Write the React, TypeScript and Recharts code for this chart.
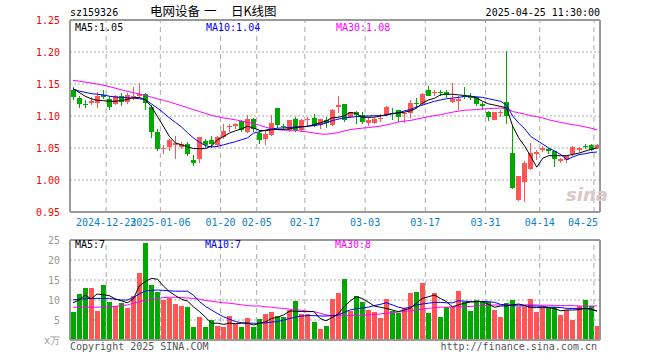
import React from 'react';
import {
    ComposedChart,
    Bar,
    Line,
    XAxis,
    YAxis,
    CartesianGrid,
    ReferenceLine,
    Cell
} from 'recharts';

const DATES = [
    '2024-12-13', '2024-12-16', '2024-12-17', '2024-12-18', '2024-12-19', '2024-12-20', '2024-12-23', '2024-12-24', '2024-12-25', '2024-12-26',
    '2024-12-27', '2024-12-30', '2024-12-31', '2025-01-02', '2025-01-03', '2025-01-06', '2025-01-07', '2025-01-08', '2025-01-09', '2025-01-10',
    '2025-01-13', '2025-01-14', '2025-01-15', '2025-01-16', '2025-01-17', '2025-01-20', '2025-01-21', '2025-01-22', '2025-01-23', '2025-01-24',
    '2025-01-27', '2025-02-05', '2025-02-06', '2025-02-07', '2025-02-10', '2025-02-11', '2025-02-12', '2025-02-13', '2025-02-14', '2025-02-17',
    '2025-02-18', '2025-02-19', '2025-02-20', '2025-02-21', '2025-02-24', '2025-02-25', '2025-02-26', '2025-02-27', '2025-02-28', '2025-03-03',
    '2025-03-04', '2025-03-05', '2025-03-06', '2025-03-07', '2025-03-10', '2025-03-11', '2025-03-12', '2025-03-13', '2025-03-14', '2025-03-17',
    '2025-03-18', '2025-03-19', '2025-03-20', '2025-03-21', '2025-03-24', '2025-03-25', '2025-03-26', '2025-03-27', '2025-03-28', '2025-03-31',
    '2025-04-01', '2025-04-02', '2025-04-03', '2025-04-07', '2025-04-08', '2025-04-09', '2025-04-10', '2025-04-11', '2025-04-14', '2025-04-15',
    '2025-04-16', '2025-04-17', '2025-04-18', '2025-04-21', '2025-04-22', '2025-04-23', '2025-04-24', '2025-04-25',
];

const OPEN = [
    1.140, 1.128, 1.118, 1.120, 1.120, 1.133, 1.127, 1.119, 1.132, 1.122,
    1.129, 1.131, 1.134, 1.1135, 1.0755, 1.048, 1.051, 1.055, 1.052, 1.056,
    1.032, 1.033, 1.061, 1.063, 1.055, 1.067, 1.083, 1.085, 1.092, 1.075,
    1.096, 1.073, 1.064, 1.071, 1.1125, 1.085, 1.0786, 1.096, 1.0786, 1.093,
    1.097, 1.0865, 1.094, 1.0865, 1.114, 1.118, 1.099, 1.1057, 1.1016, 1.0896,
    1.0885, 1.095, 1.1016, 1.105, 1.109, 1.103, 1.104, 1.121, 1.119, 1.140,
    1.1354, 1.137, 1.137, 1.122, 1.124, 1.131, 1.131, 1.129, 1.118, 1.107,
    1.094, 1.104, 1.122, 1.042, 0.968, 0.997, 1.017, 1.040, 1.047, 1.049,
    1.045, 1.029, 1.031, 1.040, 1.047, 1.0525, 1.054, 1.050,
];
const HIGH = [
    1.145, 1.131, 1.125, 1.129, 1.137, 1.140, 1.131, 1.133, 1.136, 1.136,
    1.145, 1.151, 1.136, 1.117, 1.080, 1.054, 1.064, 1.068, 1.060, 1.059,
    1.039, 1.067, 1.064, 1.068, 1.069, 1.088, 1.088, 1.089, 1.094, 1.102,
    1.097, 1.078, 1.076, 1.102, 1.1125, 1.087, 1.094, 1.098, 1.096, 1.099,
    1.103, 1.096, 1.098, 1.111, 1.132, 1.118, 1.106, 1.108, 1.106, 1.099,
    1.097, 1.103, 1.116, 1.112, 1.110, 1.107, 1.125, 1.128, 1.136, 1.147,
    1.141, 1.141, 1.141, 1.151, 1.131, 1.146, 1.136, 1.130, 1.122, 1.108,
    1.1057, 1.110, 1.202, 1.086, 1.007, 1.030, 1.058, 1.047, 1.053, 1.050,
    1.046, 1.035, 1.038, 1.053, 1.051, 1.057, 1.056, 1.056,
];
const LOW = [
    1.125, 1.113, 1.112, 1.117, 1.113, 1.126, 1.110, 1.117, 1.116, 1.118,
    1.125, 1.128, 1.110, 1.065, 1.046, 1.041, 1.045, 1.033, 1.048, 1.037,
    1.022, 1.027, 1.050, 1.050, 1.052, 1.064, 1.075, 1.079, 1.075, 1.073,
    1.075, 1.057, 1.055, 1.069, 1.081, 1.079, 1.075, 1.075, 1.075, 1.085,
    1.083, 1.080, 1.082, 1.085, 1.104, 1.091, 1.097, 1.088, 1.088, 1.084,
    1.087, 1.090, 1.100, 1.093, 1.090, 1.089, 1.097, 1.112, 1.117, 1.131,
    1.131, 1.131, 1.128, 1.121, 1.110, 1.1265, 1.1245, 1.116, 1.110, 1.092,
    1.093, 1.098, 1.088, 0.986, 0.967, 0.966, 1.016, 1.032, 1.043, 1.040,
    1.020, 1.027, 1.026, 1.038, 1.043, 1.048, 1.046, 1.048,
];
const CLOSE = [
    1.130, 1.119, 1.117, 1.124, 1.132, 1.129, 1.114, 1.131, 1.122, 1.133,
    1.132, 1.134, 1.121, 1.0745, 1.049, 1.050, 1.062, 1.058, 1.056, 1.040,
    1.026, 1.067, 1.054, 1.056, 1.067, 1.077, 1.085, 1.088, 1.078, 1.096,
    1.079, 1.063, 1.072, 1.089, 1.0865, 1.083, 1.094, 1.078, 1.093, 1.096,
    1.085, 1.096, 1.089, 1.110, 1.117, 1.094, 1.1057, 1.102, 1.090, 1.093,
    1.096, 1.097, 1.1146, 1.103, 1.099, 1.105, 1.121, 1.120, 1.135, 1.132,
    1.1375, 1.136, 1.133, 1.127, 1.1265, 1.130, 1.128, 1.118, 1.116, 1.098,
    1.1057, 1.107, 1.100, 0.988, 1.007, 1.026, 1.042, 1.044, 1.050, 1.045,
    1.033, 1.033, 1.037, 1.052, 1.050, 1.052, 1.047, 1.054,
];

// price moving averages
const MA5 = [
    1.143, 1.137, 1.131, 1.127, 1.1245, 1.124, 1.123, 1.123, 1.124, 1.126,
    1.1286, 1.129, 1.1255, 1.115, 1.0995, 1.084, 1.068, 1.058, 1.055, 1.052,
    1.049, 1.049, 1.049, 1.053, 1.063, 1.068, 1.0734, 1.077, 1.080, 1.084,
    1.081, 1.0776, 1.077, 1.0786, 1.079, 1.079, 1.080, 1.082, 1.083, 1.084,
    1.0865, 1.089, 1.092, 1.097, 1.098, 1.100, 1.1057, 1.104, 1.098, 1.098,
    1.098, 1.100, 1.102, 1.104, 1.105, 1.106, 1.108, 1.112, 1.120, 1.125,
    1.1276, 1.133, 1.134, 1.134, 1.133, 1.132, 1.131, 1.128, 1.123, 1.119,
    1.117, 1.115, 1.1125, 1.084, 1.066, 1.0526, 1.037, 1.020, 1.034, 1.038,
    1.038, 1.038, 1.038, 1.040, 1.042, 1.045, 1.048, 1.050,
];
const MA10 = [
    1.142, 1.139, 1.137, 1.135, 1.134, 1.133, 1.131, 1.1297, 1.129, 1.1285,
    1.128, 1.127, 1.1255, 1.119, 1.1125, 1.105, 1.097, 1.090, 1.083, 1.074,
    1.0656, 1.059, 1.0536, 1.0516, 1.0525, 1.055, 1.0575, 1.060, 1.063, 1.066,
    1.0734, 1.0755, 1.078, 1.0797, 1.081, 1.0815, 1.082, 1.083, 1.0835, 1.084,
    1.085, 1.0865, 1.089, 1.0927, 1.095, 1.097, 1.098, 1.099, 1.0995, 1.100,
    1.1005, 1.1005, 1.101, 1.1036, 1.1047, 1.108, 1.110, 1.114, 1.117, 1.120,
    1.123, 1.125, 1.127, 1.128, 1.129, 1.1307, 1.131, 1.130, 1.129, 1.127,
    1.125, 1.123, 1.117, 1.100, 1.089, 1.080, 1.068, 1.062, 1.056, 1.050,
    1.045, 1.0396, 1.0318, 1.036, 1.0396, 1.041, 1.043, 1.0437,
];
const MA30 = [
    1.1557, 1.1545, 1.153, 1.1516, 1.150, 1.148, 1.146, 1.1435, 1.141, 1.1385,
    1.1365, 1.1345, 1.132, 1.1295, 1.127, 1.1245, 1.122, 1.119, 1.116, 1.113,
    1.110, 1.107, 1.104, 1.101, 1.099, 1.097, 1.0955, 1.094, 1.092, 1.090,
    1.088, 1.0855, 1.0825, 1.080, 1.0786, 1.078, 1.0776, 1.0776, 1.076, 1.075,
    1.0735, 1.072, 1.0715, 1.0725, 1.074, 1.0765, 1.0786, 1.080, 1.081, 1.082,
    1.083, 1.084, 1.086, 1.088, 1.0905, 1.092, 1.093, 1.095, 1.097, 1.099,
    1.1005, 1.102, 1.104, 1.106, 1.1075, 1.109, 1.1095, 1.110, 1.111, 1.1115,
    1.112, 1.1125, 1.1115, 1.107, 1.105, 1.103, 1.1005, 1.099, 1.097, 1.094,
    1.092, 1.090, 1.088, 1.0865, 1.085, 1.083, 1.081, 1.0786,
];

// volume in 万
const VOL = [
    7.1, 11.5, 12.9, 12.9, 7.25, 13.75, 9.6, 8.5, 9.2, 8.1,
    11, 16.8, 24.3, 13.75, 12.1, 10, 10.6, 9, 8.5, 8.3,
    3.3, 5.7, 3.3, 5, 3.5, 3.3, 6, 3.9, 3.3, 5.4,
    3.3, 5.2, 6.5, 7.1, 6, 5.8, 7.5, 9.75, 6.5, 6.5,
    4.6, 2.75, 3.5, 10.25, 11.8, 15.25, 7.25, 11, 9.6, 7.5,
    7.1, 5.6, 10.25, 7.25, 6.7, 7.9, 11.8, 12.1, 14.3, 6.8,
    11.8, 5.8, 8.2, 8.2, 12.25, 9.6, 7.3, 10, 9.8, 9.6,
    7.5, 5.8, 9.2, 10, 8.2, 8.2, 10.25, 7.1, 8.1, 8.2,
    8.2, 6.25, 7.5, 5, 8.5, 10, 8.5, 3.5,
];
const VMA5 = [
    9.3, 10, 11.2, 10.3, 11.5, 11.3, 11.1, 10.3, 9.8, 9.3,
    10.2, 13.5, 14.6, 15.4, 15.2, 13.5, 12.1, 11.1, 10.2, 9.75,
    8.3, 7.1, 5.7, 4.2, 4.2, 3.9, 4.2, 4.1, 4.2, 4.2,
    3.75, 4.2, 4.6, 5.4, 5.7, 6.3, 7.25, 7.2, 7.1, 7.1,
    7.1, 5.4, 4.8, 5.6, 6.5, 8.3, 9.7, 10.8, 10.4, 9.5,
    8.5, 8.2, 7.9, 7.5, 7.1, 7.5, 7.9, 9.2, 10.4, 10.8,
    11.25, 10.4, 9.6, 8.3, 8.8, 9.2, 9.5, 9.6, 9.6, 8.9,
    8.2, 8.5, 8.5, 8.8, 9.0, 8.6, 8.1, 8.1, 8.1, 8.1,
    7.8, 7.3, 7.5, 7.5, 7.6, 7.9, 7.8, 7.2,
];
const VMA10 = [
    10, 10.2, 10.3, 10.4, 10.4, 10.4, 10.4, 10.2, 10, 10,
    10.6, 11.5, 12.25, 12.4, 12.5, 12.4, 12.3, 12.2, 12.2, 12.2,
    11.2, 9.6, 8.4, 7.5, 6.6, 5.8, 5.2, 4.6, 4.3, 4.2,
    4.2, 4.2, 4.3, 4.5, 4.6, 5.0, 5.4, 5.7, 6, 6.1,
    6.1, 6, 6, 6.1, 6.25, 6.9, 7.5, 7.8, 8.0, 8.2,
    8.6, 8.9, 9.3, 8.8, 8.2, 7.9, 8.2, 8.75, 9.0, 9.2,
    9.4, 9.4, 9.3, 9.3, 9.8, 9.7, 9.6, 9.6, 9.6, 9.6,
    9.4, 8.9, 8.8, 8.6, 8.5, 8.5, 8.5, 8.5, 8.4, 8.2,
    8.2, 8.1, 7.9, 7.9, 7.9, 7.9, 7.6, 7.3,
];
const VMA30 = [
    8.2, 8.2, 8.2, 8.2, 8.2, 8.3, 8.3, 8.4, 8.6, 8.75,
    9.2, 9.6, 9.9, 10.1, 10.4, 10.6, 10.7, 10.7, 10.6, 10.5,
    10.4, 10.2, 9.9, 9.7, 9.5, 9.3, 9.2, 9.0, 8.8, 8.6,
    8.5, 8.5, 8.3, 8.2, 8.0, 7.9, 7.7, 7.6, 7.4, 7.2,
    7.1, 6.7, 6.3, 6.0, 6.0, 6.1, 6.1, 6.2, 6.2, 6.25,
    6.4, 6.5, 6.7, 6.8, 7.0, 7.1, 7.3, 7.5, 7.7, 7.9,
    8.1, 8.2, 8.2, 8.3, 8.3, 8.3, 8.4, 8.5, 8.6, 8.7,
    8.75, 8.75, 8.8, 8.8, 8.8, 8.8, 8.8, 8.75, 8.7, 8.7,
    8.6, 8.6, 8.6, 8.6, 8.5, 8.5, 8.5, 8.5,
];

const TICK_LABELS: Record<string, string> = {
    '2024-12-23': '2024-12-23',
    '2025-01-06': '2025-01-06',
    '2025-01-20': '01-20',
    '2025-02-05': '02-05',
    '2025-02-17': '02-17',
    '2025-03-03': '03-03',
    '2025-03-17': '03-17',
    '2025-03-31': '03-31',
    '2025-04-14': '04-14',
    '2025-04-25': '04-25',
};
const TICK_DATES = Object.keys(TICK_LABELS);

const PRICE_TICKS = [0.95, 1.0, 1.05, 1.1, 1.15, 1.2, 1.25];
const VOL_TICKS = [0, 5, 10, 15, 20, 25];

const RED = '#ff5555';
const GREEN = '#00a800';
const GRID = '#aaaaaa';
const FRAME = '#999999';
const MONO = '"DejaVu Sans Mono", "Liberation Mono", monospace';
const CJK = '"Noto Sans CJK SC", sans-serif';

const PLOT_W = 530;
const HALF_BAND = PLOT_W / DATES.length / 2;
const LAST = DATES[DATES.length - 1];

const priceData = DATES.map((d, i) => ({
    d,
    o: OPEN[i],
    h: HIGH[i],
    l: LOW[i],
    c: CLOSE[i],
    range: [LOW[i], HIGH[i]],
    ma5: MA5[i],
    ma10: MA10[i],
    ma30: MA30[i],
}));

const volData = DATES.map((d, i) => ({
    d,
    vol: VOL[i],
    up: CLOSE[i] >= OPEN[i],
    ma5: VMA5[i],
    ma10: VMA10[i],
    ma30: VMA30[i],
}));

function Candle(props: any) {
    const { x, y, width, height, payload } = props;
    const { o, h, l, c } = payload;
    const color = c >= o ? RED : GREEN;
    const k = height / (h - l);
    const py = (v: number) => y + (h - v) * k;
    const cx = Math.floor(x + width / 2);
    const top = Math.round(py(Math.max(o, c)));
    const bot = Math.round(py(Math.min(o, c)));
    const wt = Math.round(y);
    const wb = Math.round(y + height);
    return (
        <g shapeRendering="crispEdges">
            <rect x={cx} y={wt} width={1} height={Math.max(1, wb - wt)} fill={color} />
            <rect x={cx - 2} y={top} width={5} height={Math.max(1, bot - top)} fill={color} />
        </g>
    );
}

function VolBar(props: any) {
    const { x, y, width, height, fill } = props;
    const cx = Math.floor(x + width / 2);
    const top = Math.round(y);
    const bot = Math.round(y + height);
    return <rect x={cx - 2} y={top} width={5} height={Math.max(0, bot - top)} fill={fill} shapeRendering="crispEdges" />;
}

function DateTick(props: any) {
    const { x, y, payload } = props;
    const label = TICK_LABELS[payload.value];
    if (!label) return <g />;
    const last = payload.value === LAST;
    return (
        <text
            x={last ? x + HALF_BAND - 2 : x - HALF_BAND}
            y={y + 14}
            textAnchor={last ? 'end' : 'middle'}
            fill="#0a7fd0"
            fontSize={10}
            fontFamily={MONO}
        >
            {label}
        </text>
    );
}

const txt = (left: number, top: number, color: string, size = 10, family = MONO): React.CSSProperties => ({
    position: 'absolute',
    left,
    top,
    color,
    fontSize: size,
    fontFamily: family,
    lineHeight: `${size + 2}px`,
    whiteSpace: 'pre',
});

export default function App() {
    return (
        <div style={{ position: 'absolute', left: 0, top: 0, width: 660, height: 360, background: '#fff', overflow: 'hidden' }}>
            {/* price panel */}
            <div style={{ position: 'absolute', left: 0, top: 0 }}>
                <ComposedChart width={660} height={232} data={priceData} margin={{ top: 20, right: 60, bottom: 0, left: 0 }}>
                    <CartesianGrid vertical={false} stroke={GRID} strokeDasharray="2 2" />
                    {TICK_DATES.map((t) => (
                        <ReferenceLine key={t} x={t} position="start" stroke={GRID} strokeDasharray="5 4" />
                    ))}
                    <XAxis
                        dataKey="d"
                        interval={0}
                        height={20}
                        tickLine={false}
                        tickSize={0}
                        tickMargin={0}
                        axisLine={{ stroke: FRAME, strokeWidth: 2 }}
                        tick={<DateTick />}
                    />
                    <YAxis
                        width={70}
                        domain={[0.95, 1.25]}
                        ticks={PRICE_TICKS}
                        interval={0}
                        allowDataOverflow
                        tickLine={false}
                        tickMargin={4}
                        axisLine={{ stroke: FRAME, strokeWidth: 2 }}
                        tickFormatter={(v: number) => v.toFixed(2)}
                        tick={{ fill: '#ff0000', fontSize: 10, fontFamily: MONO }}
                    />
                    <ReferenceLine y={1.25} stroke={FRAME} strokeWidth={2} />
                    <ReferenceLine x={LAST} position="end" stroke={FRAME} strokeWidth={2} />
                    <Bar dataKey="range" shape={<Candle />} isAnimationActive={false} />
                    <Line type="linear" dataKey="ma30" stroke="#ff00ff" strokeWidth={1} dot={false} isAnimationActive={false} />
                    <Line type="linear" dataKey="ma10" stroke="#0000ff" strokeWidth={1} dot={false} isAnimationActive={false} />
                    <Line type="linear" dataKey="ma5" stroke="#000000" strokeWidth={1} dot={false} isAnimationActive={false} />
                </ComposedChart>
            </div>

            {/* volume panel */}
            <div style={{ position: 'absolute', left: 0, top: 230 }}>
                <ComposedChart width={660} height={124} data={volData} margin={{ top: 10, right: 60, bottom: 12, left: 0 }}>
                    <CartesianGrid vertical={false} stroke={GRID} strokeDasharray="2 2" />
                    {TICK_DATES.map((t) => (
                        <ReferenceLine key={t} x={t} position="start" stroke={GRID} strokeDasharray="5 4" />
                    ))}
                    <XAxis dataKey="d" height={2} tick={false} tickLine={false} axisLine={{ stroke: FRAME, strokeWidth: 2 }} />
                    <YAxis
                        width={70}
                        domain={[0, 25]}
                        ticks={VOL_TICKS}
                        interval={0}
                        allowDataOverflow
                        tickLine={false}
                        tickMargin={4}
                        axisLine={{ stroke: FRAME, strokeWidth: 2 }}
                        tickFormatter={(v: number) => (v === 0 ? 'x万' : String(v))}
                        tick={{ fill: '#999999', fontSize: 10, fontFamily: MONO }}
                    />
                    <ReferenceLine y={25} stroke={FRAME} strokeWidth={2} />
                    <ReferenceLine x={LAST} position="end" stroke={FRAME} strokeWidth={2} />
                    <Bar dataKey="vol" shape={<VolBar />} isAnimationActive={false}>
                        {volData.map((v) => (
                            <Cell key={v.d} fill={v.up ? RED : GREEN} />
                        ))}
                    </Bar>
                    <Line type="linear" dataKey="ma30" stroke="#ff00ff" strokeWidth={1} dot={false} isAnimationActive={false} />
                    <Line type="linear" dataKey="ma10" stroke="#0000ff" strokeWidth={1} dot={false} isAnimationActive={false} />
                    <Line type="linear" dataKey="ma5" stroke="#000000" strokeWidth={1} dot={false} isAnimationActive={false} />
                </ComposedChart>
            </div>

            {/* header */}
            <div style={txt(70, 7, '#000')}>sz159326</div>
            <div style={txt(150, 4, '#000', 12.5, CJK)}>电网设备</div>
            <div style={txt(204, 4, '#000', 12.5, CJK)}>一</div>
            <div style={txt(231, 4, '#000', 12.5, CJK)}>日K线图</div>
            <div style={{ ...txt(0, 7, '#000'), left: 'auto', right: 60 }}>2025-04-25 11:30:00</div>

            {/* MA legends */}
            <div style={txt(75, 22, '#000')}>MA5:1.05</div>
            <div style={txt(206, 22, '#0000ff')}>MA10:1.04</div>
            <div style={txt(336, 22, '#ff00ff')}>MA30:1.08</div>
            <div style={txt(75, 239, '#000')}>MA5:7</div>
            <div style={txt(205, 239, '#0000ff')}>MA10:7</div>
            <div style={txt(335, 239, '#ff00ff')}>MA30:8</div>

            {/* watermark */}
            <div style={{ ...txt(566, 185, '#d8c8c8', 18, '"DejaVu Sans", sans-serif'), fontStyle: 'italic', fontWeight: 'bold' }}>sina</div>

            {/* footer */}
            <div style={txt(70, 341, '#555')}>Copyright 2025 SINA.COM</div>
            <div style={{ ...txt(0, 341, '#555'), left: 'auto', right: 63 }}>http://finance.sina.com.cn</div>
        </div>
    );
}
